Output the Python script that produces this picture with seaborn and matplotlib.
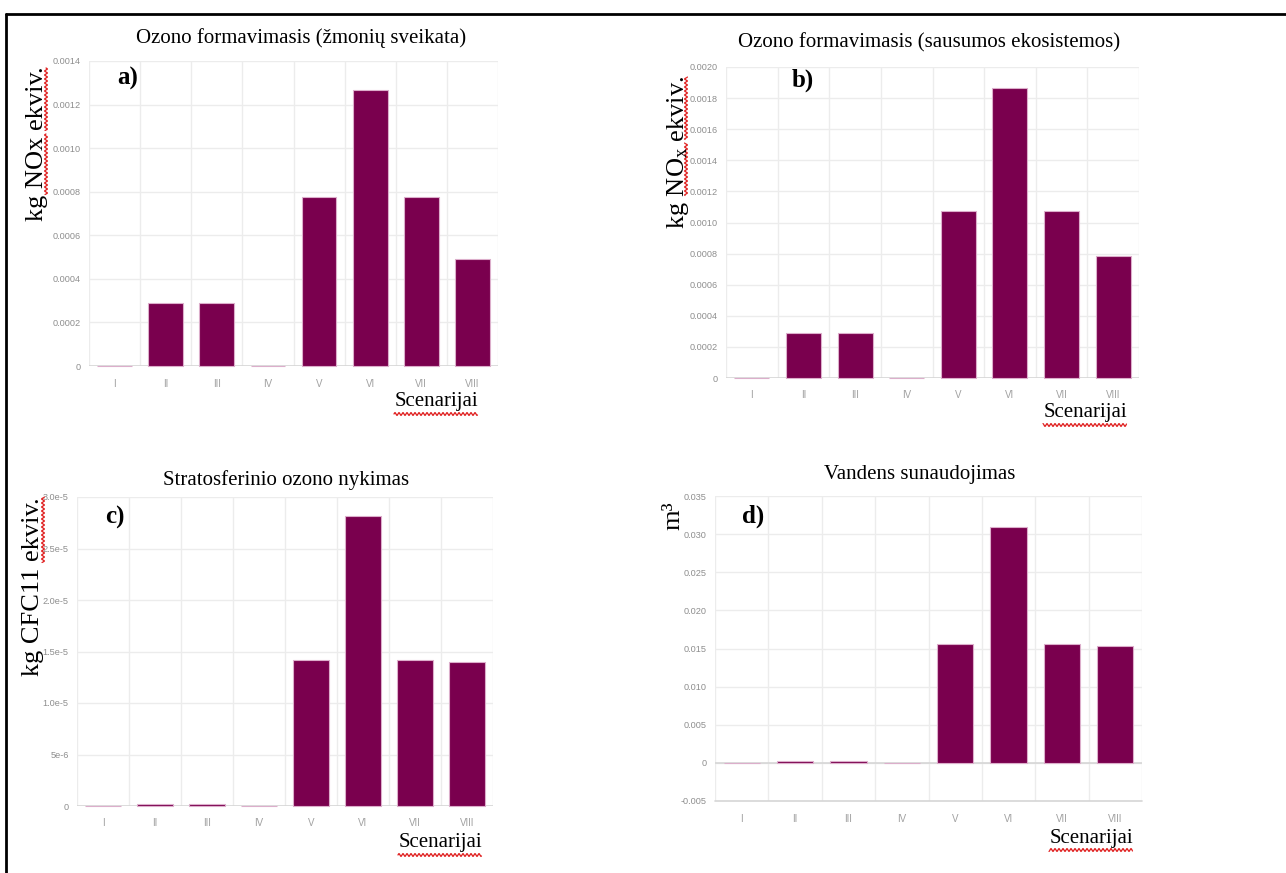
import matplotlib
matplotlib.use("Agg")
import matplotlib.pyplot as plt
import seaborn as sns
import pandas as pd
import numpy as np
from matplotlib.lines import Line2D

# ---------------- data ----------------
scenarios = ["I", "II", "III", "IV", "V", "VI", "VII", "VIII"]

ozone_human = [0.0, 0.000287, 0.000287, 0.0, 0.000776, 0.001267, 0.000776, 0.00049]
ozone_terrestrial = [0.0, 0.000287, 0.000287, 0.0, 0.001074, 0.001863, 0.001074, 0.000787]
ozone_depletion = [0.0, 2.0e-7, 2.0e-7, 0.0, 1.414e-5, 2.816e-5, 1.414e-5, 1.398e-5]
water_use = [0.0, 0.00026, 0.00026, 0.0, 0.0156, 0.0309, 0.0156, 0.0153]

ticks_a = [0, 0.0002, 0.0004, 0.0006, 0.0008, 0.0010, 0.0012, 0.0014]
labels_a = ["0", "0.0002", "0.0004", "0.0006", "0.0008", "0.0010", "0.0012", "0.0014"]
ticks_b = [0, 0.0002, 0.0004, 0.0006, 0.0008, 0.0010, 0.0012, 0.0014, 0.0016, 0.0018, 0.0020]
labels_b = ["0", "0.0002", "0.0004", "0.0006", "0.0008", "0.0010", "0.0012", "0.0014",
            "0.0016", "0.0018", "0.0020"]
ticks_c = [0, 5e-6, 1.0e-5, 1.5e-5, 2.0e-5, 2.5e-5, 3.0e-5]
labels_c = ["0", "5e-6", "1.0e-5", "1.5e-5", "2.0e-5", "2.5e-5", "3.0e-5"]
ticks_d = [-0.005, 0, 0.005, 0.010, 0.015, 0.020, 0.025, 0.030, 0.035]
labels_d = ["-0.005", "0", "0.005", "0.010", "0.015", "0.020", "0.025", "0.030", "0.035"]

titles = ["Ozono formavimasis (žmonių sveikata)",
          "Ozono formavimasis (sausumos ekosistemos)",
          "Stratosferinio ozono nykimas",
          "Vandens sunaudojimas"]
ylabels = ["kg NOx ekviv.",
           r"kg NO$_\mathregular{x}$ ekviv.",
           "kg CFC11 ekviv.",
           "m³"]
letters = ["a)", "b)", "c)", "d)"]
xlabel = "Scenarijai"

# ---------------- style ----------------
sns.set_theme(style="white")
plt.rcParams["font.family"] = ["Liberation Serif", "DejaVu Serif"]
plt.rcParams["mathtext.fontset"] = "custom"
plt.rcParams["mathtext.rm"] = "Liberation Serif"
plt.rcParams["mathtext.it"] = "Liberation Serif:italic"

W, H = 1286, 873
fig = plt.figure(figsize=(W / 100, H / 100), dpi=100)
fig.patch.set_facecolor("white")

BAR = "#7a004e"
EDGE = "#dcaecb"
GRID = "#ececec"
ZERO = "#d6d6d6"
TICKC = "#8e8e8e"


def fx(x):
    return x / W


def fy(y):
    return 1 - y / H


def wavy(x0, y0, x1, y1, vertical=False):
    # red spell-check style wavy underline (pixel coords, y from top)
    if vertical:
        t = np.arange(min(y0, y1), max(y0, y1), 0.5)
        xs = x0 + 1.4 * np.sin(t * 2 * np.pi / 4.0)
        fig.add_artist(Line2D([fx(v) for v in xs], [fy(v) for v in t],
                              color="#e02020", lw=0.9, transform=fig.transFigure))
    else:
        t = np.arange(min(x0, x1), max(x0, x1), 0.5)
        ys = y0 + 1.4 * np.sin(t * 2 * np.pi / 4.0)
        fig.add_artist(Line2D([fx(v) for v in t], [fy(v) for v in ys],
                              color="#e02020", lw=0.9, transform=fig.transFigure))


panels = [
    dict(vals=ozone_human, ticks=ticks_a, labels=labels_a, ylim=(0, 0.0014),
         box=(89, 61, 498, 366), title_xy=(301, 38), ylab_xy=(37, 66),
         letter_xy=(128, 78), xl_xy=(478, 402)),
    dict(vals=ozone_terrestrial, ticks=ticks_b, labels=labels_b, ylim=(0, 0.0020),
         box=(726, 67, 1139, 378), title_xy=(929, 43), ylab_xy=(678, 76),
         letter_xy=(803, 80), xl_xy=(1127, 413)),
    dict(vals=ozone_depletion, ticks=ticks_c, labels=labels_c, ylim=(0, 3.0e-5),
         box=(77, 497, 493, 806), title_xy=(286, 480), ylab_xy=(33, 497),
         letter_xy=(115, 517), xl_xy=(482, 843)),
    dict(vals=water_use, ticks=ticks_d, labels=labels_d, ylim=(-0.005, 0.035),
         box=(715, 496, 1142, 801), title_xy=(920, 475), ylab_xy=(673, 501),
         letter_xy=(753, 516), xl_xy=(1133, 838)),
]

for i, p in enumerate(panels):
    l, t, r, b = p["box"]
    ax = fig.add_axes([fx(l), fy(b), (r - l) / W, (b - t) / H])
    df = pd.DataFrame({"Scenarijus": scenarios, "Vertė": p["vals"]})
    sns.barplot(data=df, x="Scenarijus", y="Vertė", ax=ax, color=BAR, saturation=1,
                width=0.68, edgecolor=EDGE, linewidth=0.8, zorder=3)
    ax.set_xlim(-0.5, 7.5)
    ax.set_ylim(*p["ylim"])
    ax.set_xlabel("")
    ax.set_ylabel("")
    for s in ax.spines.values():
        s.set_visible(False)
    ax.set_facecolor("white")
    ax.set_axisbelow(True)
    for patch in ax.patches:
        patch.set_clip_on(False)

    ax.set_yticks(p["ticks"])
    ax.set_yticklabels(p["labels"], family=["Liberation Sans", "DejaVu Sans"],
                       fontsize=6.6, color=TICKC)
    ax.set_xticks(range(len(scenarios)))
    ax.set_xticklabels(scenarios, family=["Liberation Sans", "DejaVu Sans"],
                       fontsize=7, color="#a0a0a0")
    ax.set_xticks(np.arange(-0.5, 8.0, 1.0), minor=True)
    ax.tick_params(axis="x", which="major", length=0, pad=9)
    ax.tick_params(axis="x", which="minor", length=8, width=1, color=GRID, direction="out")
    ax.tick_params(axis="y", which="both", length=0, pad=6)
    ax.grid(axis="y", which="major", color=GRID, lw=1)
    ax.grid(axis="x", which="minor", color=GRID, lw=1)
    ax.grid(axis="x", which="major", visible=False)
    ax.axhline(0, color=ZERO, lw=1.2, zorder=1)
    if p["ylim"][0] < 0:
        ax.axhline(p["ylim"][0], color=ZERO, lw=1.2, zorder=1, clip_on=False)

    tx, ty = p["title_xy"]
    fig.text(fx(tx), fy(ty), titles[i], ha="center", va="center", fontsize=15,
             color="black")
    yx, yy = p["ylab_xy"]
    fig.text(fx(yx), fy(yy), ylabels[i], ha="center", va="top", rotation=90,
             fontsize=19, color="black")
    lx, ly = p["letter_xy"]
    fig.text(fx(lx), fy(ly), letters[i], ha="center", va="center", fontsize=18,
             fontweight="bold", color="black")
    xx, xy = p["xl_xy"]
    fig.text(fx(xx), fy(xy), xlabel, ha="right", va="center", fontsize=15,
             color="black")
    wavy(xx - 84, xy + 12, xx, xy + 12)

# wavy underlines on y labels
wavy(46, 68, 46, 131, vertical=True)
wavy(46, 134, 46, 195, vertical=True)
wavy(686, 77, 686, 140, vertical=True)
wavy(686, 143, 686, 196, vertical=True)
wavy(43, 497, 43, 563, vertical=True)

# outer frame (top and left edges visible)
fig.add_artist(Line2D([fx(6), fx(1290)], [fy(14), fy(14)], color="black", lw=2,
                      transform=fig.transFigure))
fig.add_artist(Line2D([fx(6), fx(6)], [fy(14), fy(880)], color="black", lw=2,
                      transform=fig.transFigure))

fig.savefig("out.png", dpi=100, facecolor="white")
